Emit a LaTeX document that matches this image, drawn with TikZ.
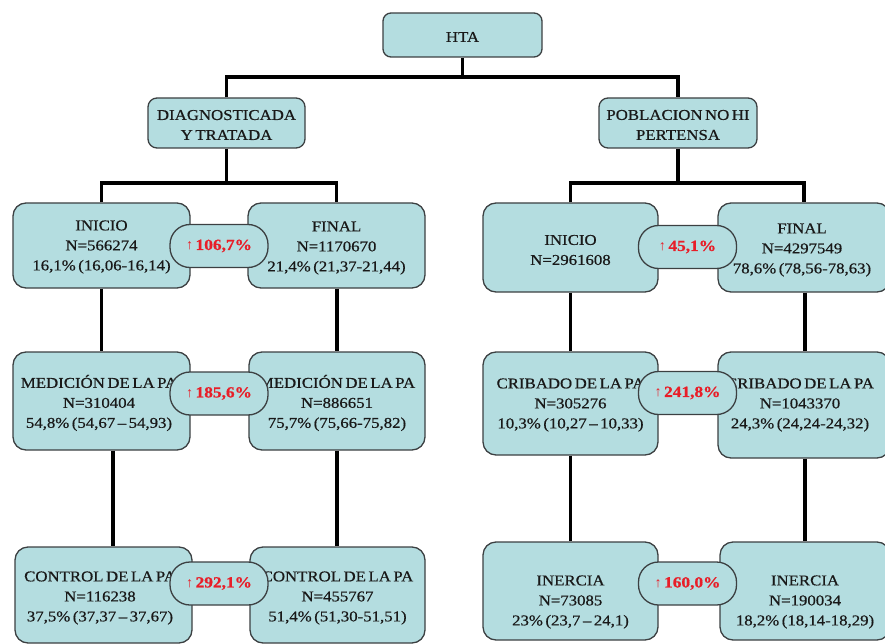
\documentclass[tikz,border=0pt]{standalone}
\usepackage{fontspec}
\setmainfont[FakeStretch=1.12,WordSpace=0.6,FakeBold=0.6]{Liberation Serif}
\newfontfamily\arrowfont{Liberation Serif}
\usetikzlibrary{calc}
\definecolor{boxfill}{RGB}{180,221,224}
\definecolor{boxline}{RGB}{60,64,66}
\definecolor{txtcol}{RGB}{25,25,25}
\definecolor{pctred}{RGB}{232,30,40}
\tikzset{
  box/.style={draw=boxline, line width=1.3pt, fill=boxfill, rounded corners=13pt, inner sep=0pt},
  topbox/.style={box, rounded corners=8pt},
  txt/.style={text=txtcol, align=center, font=\fontsize{15}{20}\selectfont, inner sep=0pt},
  pill/.style={draw=boxline, line width=1.3pt, fill=boxfill, rounded corners=20pt, minimum width=98pt, minimum height=43pt, inner sep=0pt, text=pctred, font=\fontsize{15.5}{18}\selectfont\bfseries},
  link/.style={line width=3.6pt, black}
}
\newcommand{\up}{{\arrowfont\mdseries\fontsize{14}{14}\selectfont↑}\,}
\begin{document}
\begin{tikzpicture}[x=1pt,y=-1pt]
\useasboundingbox (0,0) rectangle (885,644);
% boxes
\node[topbox, minimum width=159pt, minimum height=44pt] (hta) at (462.5,35) {};
\node[box, rounded corners=9pt, minimum width=157pt, minimum height=50pt] (diag) at (226.5,123) {};
\node[box, rounded corners=9pt, minimum width=158pt, minimum height=50pt] (pobl) at (678,123) {};
\node[box, minimum width=177pt, minimum height=85pt] (L1a) at (101.5,245.5) {};
\node[box, minimum width=177pt, minimum height=85pt] (L1b) at (336.5,245.5) {};
\node[box, minimum width=175pt, minimum height=89pt] (R1a) at (570.5,247.5) {};
\node[box, minimum width=172pt, minimum height=89pt] (R1b) at (804,247.5) {};
\node[box, minimum width=177pt, minimum height=98pt] (L2a) at (101.5,401) {};
\node[box, minimum width=176pt, minimum height=98pt] (L2b) at (337,401) {};
\node[box, minimum width=175pt, minimum height=103pt] (R2a) at (570.5,403.5) {};
\node[box, minimum width=172pt, minimum height=106pt] (R2b) at (804,405) {};
\node[box, minimum width=177pt, minimum height=96pt] (L3a) at (103.5,595) {};
\node[box, minimum width=175pt, minimum height=96pt] (L3b) at (337.5,595) {};
\node[box, minimum width=175pt, minimum height=98pt] (R3a) at (570.5,591) {};
\node[box, minimum width=170pt, minimum height=98pt] (R3b) at (805,591) {};
% connectors
\coordinate (j0) at (462.5,77);
\coordinate (j1) at (226.5,183);
\coordinate (j2) at (678,183);
\draw[link] (hta) -- (j0);
\draw[link] (diag) |- (j0) -| (pobl);
\draw[link] (diag) -- (j1);
\draw[link] (L1a) |- (j1) -| (L1b);
\draw[link] (pobl) -- (j2);
\draw[link] (R1a) |- (j2) -| (R1b);
\draw[link] (L1a) -- (L2a);
\draw[link] ([xshift=11.5pt]L2a.south) -- ([xshift=9.5pt]L3a.north);
\draw[link] ([xshift=0.5pt]L1b.south) -- (L2b.north);
\draw[link] (L2b) -- ([xshift=-0.5pt]L3b.north);
\draw[link] (R1a) -- (R2a);
\draw[link] (R2a) -- (R3a);
\draw[link] ([xshift=1pt]R1b.south) -- ([xshift=1pt]R2b.north);
\draw[link] ([xshift=1pt]R2b.south) -- (R3b);
% texts
\node[txt] (t0) at (462.5,37) {HTA};
\node[txt] (td) at (226.5,125) {DIAGNOSTICADA\\Y TRATADA};
\node[txt] (tp) at (678,125) {POBLACION NO HI\\PERTENSA};
\node[txt] (tL1a) at (101.5,247) {INICIO\\N=566274\\16,1\% (16,06-16,14)};
\node[txt] (tL1b) at (336.5,248) {FINAL\\N=1170670\\21,4\% (21,37-21,44)};
\node[txt] (tR1a) at (570.5,250) {INICIO\\N=2961608};
\node[txt] (tR1b) at (802,250) {FINAL\\N=4297549\\78,6\% (78,56-78,63)};
\node[txt] (tL2a) at (99,403) {MEDICIÓN DE LA PA\\N=310404\\54,8\% (54,67 – 54,93)};
\node[txt] (tL2b) at (337,403) {MEDICIÓN DE LA PA\\N=886651\\75,7\% (75,66-75,82)};
\node[txt] (tR2a) at (570.5,405) {CRIBADO DE LA PA\\N=305276\\10,3\% (10,27 – 10,33)};
\node[txt] (tR2b) at (800,405) {CRIBADO DE LA PA\\N=1043370\\24,3\% (24,24-24,32)};
\node[txt] (tL3a) at (100,598) {CONTROL DE LA PA\\N=116238\\37,5\% (37,37 – 37,67)};
\node[txt] (tL3b) at (337.5,598) {CONTROL DE LA PA\\N=455767\\51,4\% (51,30-51,51)};
\node[txt] (tR3a) at (570.5,602) {INERCIA\\N=73085\\23\% (23,7 – 24,1)};
\node[txt] (tR3b) at (805,602) {INERCIA\\N=190034\\18,2\% (18,14-18,29)};
% pills
\node[pill] (p1) at (219,246) {\up 106,7\%};
\node[pill] (p2) at (687.5,247) {\up 45,1\%};
\node[pill] (p3) at (219,393.5) {\up 185,6\%};
\node[pill] (p4) at (687.5,393) {\up 241,8\%};
\node[pill] (p5) at (219,583.5) {\up 292,1\%};
\node[pill] (p6) at (687.5,583.5) {\up 160,0\%};
\end{tikzpicture}
\end{document}
